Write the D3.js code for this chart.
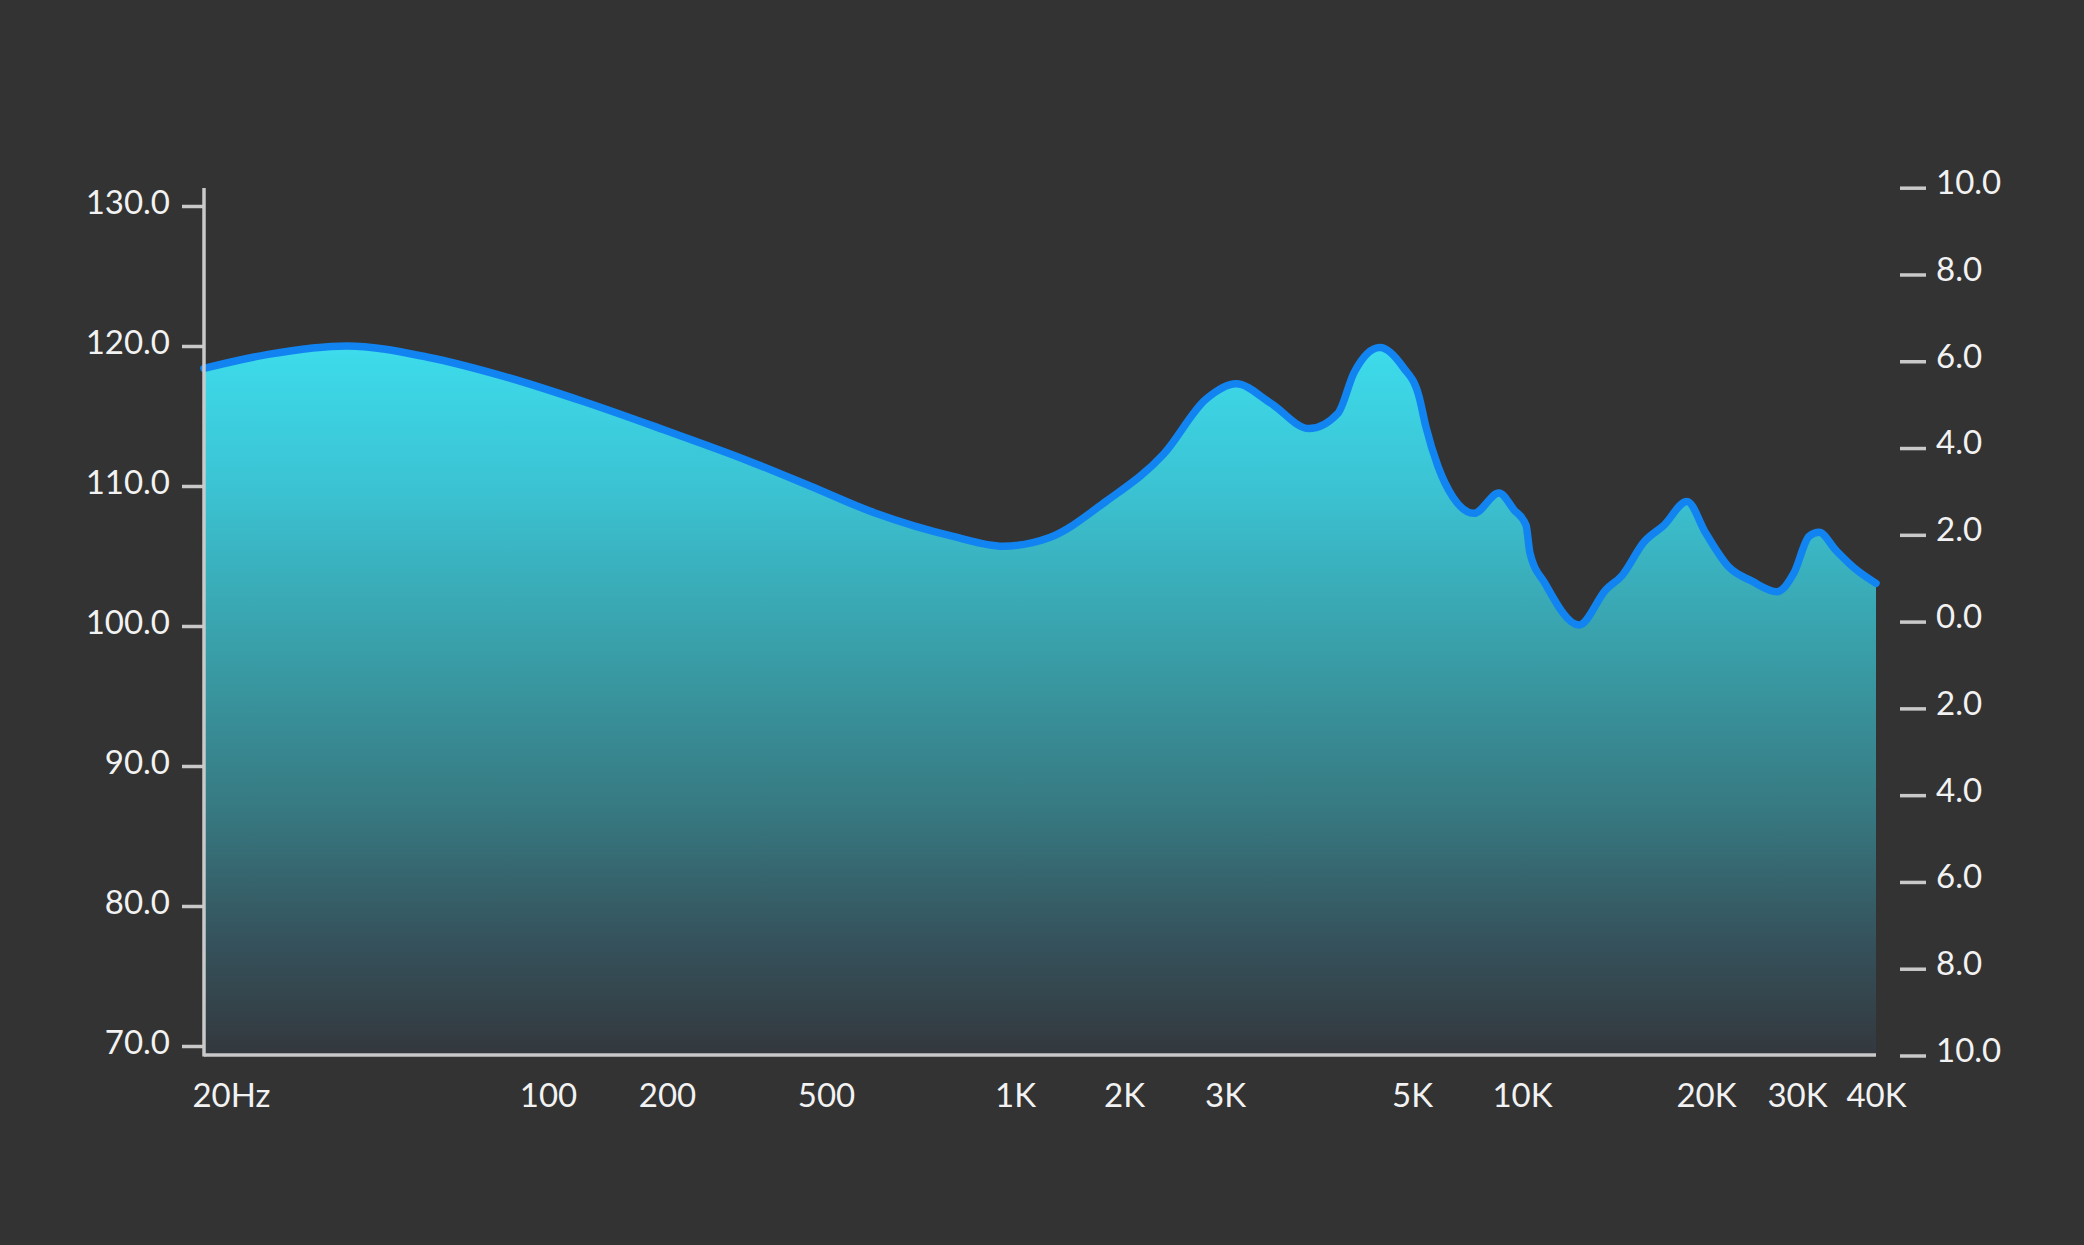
<!DOCTYPE html>
<html>
<head>
<meta charset="utf-8">
<script src="https://cdn.jsdelivr.net/npm/d3@7"></script>
<style>
  html, body { margin: 0; padding: 0; background: #333333; }
  svg { display: block; }
  text { font-family: Lato, "Noto Sans", sans-serif; fill: #f2f2f2; }
</style>
</head>
<body>
<svg id="chart" width="2084" height="1245"></svg>
<script>
// ---- data ----
const freqs = [20, 27, 39, 57, 82, 124, 197, 313, 456, 600, 797, 957, 1241, 1784, 2348, 2780, 3092, 3402, 3774, 4085,
  4268, 4581, 4878, 5226, 5461, 5890, 6474, 7390, 8650, 9507, 10152, 10306, 10905, 12395, 13722, 14575, 15834, 17072, 18617, 20000,
  22158, 24550, 27443, 29602, 31340, 32502, 34579, 37057, 40000];
const spl = [118.4, 119.4, 120.0, 119.2, 117.8, 116.0, 114.0, 111.9, 110.0, 108.05, 106.4, 105.7, 106.3, 108.9, 112.3, 116.2, 117.3, 115.9, 114.1, 115.2,
  118.1, 119.9, 118.5, 116.4, 114.2, 111.4, 109.2, 108.05, 109.5, 108.3, 107.2, 105.2, 103.05, 100.07, 102.6, 103.6, 106.0, 107.2, 108.9, 106.6,
  104.2, 103.2, 102.45, 103.8, 106.4, 106.7, 105.4, 104.1, 103.05];
const xTickValues = [20, 100, 200, 500, 1000, 2000, 3000, 5000, 10000, 20000, 30000, 40000];
const xTickLabels = ["20Hz", "100", "200", "500", "1K", "2K", "3K", "5K", "10K", "20K", "30K", "40K"];
const leftTicks = [70, 80, 90, 100, 110, 120, 130];
const rightTicks = [-10, -8, -6, -4, -2, 0, 2, 4, 6, 8, 10];

// ---- layout ----
const svg = d3.select("#chart");
svg.append("rect").attr("width", 2084).attr("height", 1245).attr("fill", "#333333");

const axisX = 204, baseY = 1055, rightEnd = 1876;
const xPositions = [204, 548, 667, 826, 1015, 1124, 1225, 1412, 1522, 1706, 1797, 1876];
const x = d3.scaleLog().domain(xTickValues).range(xPositions);
const y = d3.scaleLinear().domain([70, 130]).range([1046, 206]);
const yR = d3.scaleLinear().domain([-10, 10]).range([1055.5, 187.7]);

const data = freqs.map((f, i) => ({ f, v: spl[i] }));

// gradient
const defs = svg.append("defs");
const grad = defs.append("linearGradient").attr("id", "fillGrad")
  .attr("gradientUnits", "userSpaceOnUse").attr("x1", 0).attr("x2", 0).attr("y1", 345).attr("y2", baseY);
[[0, "#3ddcec"], [0.2, "#3bc3d3"], [0.42, "#39a0aa"], [0.65, "#377a82"], [0.85, "#35505a"], [1, "#33383d"]]
  .forEach(([o, c]) => grad.append("stop").attr("offset", o).attr("stop-color", c));

const area = d3.area().x(d => x(d.f)).y0(baseY).y1(d => y(d.v)).curve(d3.curveMonotoneX);
const line = d3.line().x(d => x(d.f)).y(d => y(d.v)).curve(d3.curveMonotoneX);

svg.append("path").datum(data).attr("d", area).attr("fill", "url(#fillGrad)");
svg.append("path").datum(data).attr("d", line).attr("fill", "none")
  .attr("stroke", "#1284f2").attr("stroke-width", 7.5).attr("stroke-linejoin", "round").attr("stroke-linecap", "round");

// axis lines
const axisColor = "#c9c9c9";
svg.append("line").attr("x1", axisX).attr("x2", axisX).attr("y1", 188).attr("y2", baseY + 1.5)
  .attr("stroke", axisColor).attr("stroke-width", 3.5);
svg.append("line").attr("x1", axisX).attr("x2", rightEnd).attr("y1", baseY).attr("y2", baseY)
  .attr("stroke", axisColor).attr("stroke-width", 3.5);

const fontSize = 33;
// left axis
const gL = svg.append("g").attr("transform", `translate(${axisX - 1},0)`)
  .call(d3.axisLeft(y).tickValues(leftTicks).tickSize(21).tickPadding(12).tickFormat(d => d.toFixed(1)));
gL.select(".domain").remove();
gL.selectAll(".tick line").attr("stroke", axisColor).attr("stroke-width", 3.5);
gL.selectAll(".tick text").attr("font-size", fontSize).attr("font-family", "Lato, 'Noto Sans', sans-serif")
  .attr("fill", "#f2f2f2").attr("dy", "0.24em");

// right axis
const gR = svg.append("g").attr("transform", "translate(1900,0)")
  .call(d3.axisRight(yR).tickValues(rightTicks).tickSize(26).tickPadding(10).tickFormat(d => Math.abs(d).toFixed(1)));
gR.select(".domain").remove();
gR.selectAll(".tick line").attr("stroke", axisColor).attr("stroke-width", 3.5);
gR.selectAll(".tick text").attr("font-size", fontSize).attr("font-family", "Lato, 'Noto Sans', sans-serif")
  .attr("fill", "#f2f2f2").attr("dy", "0.18em");

// bottom axis labels
const gB = svg.append("g").attr("transform", `translate(0,${baseY})`)
  .call(d3.axisBottom(x).tickValues(xTickValues).tickSize(0).tickPadding(29)
    .tickFormat((d, i) => xTickLabels[i]));
gB.select(".domain").remove();
gB.selectAll(".tick text").attr("font-size", fontSize).attr("font-family", "Lato, 'Noto Sans', sans-serif")
  .attr("fill", "#f2f2f2")
  .attr("dx", (d, i) => i === 0 ? 27 : 0);
</script>
</body>
</html>
